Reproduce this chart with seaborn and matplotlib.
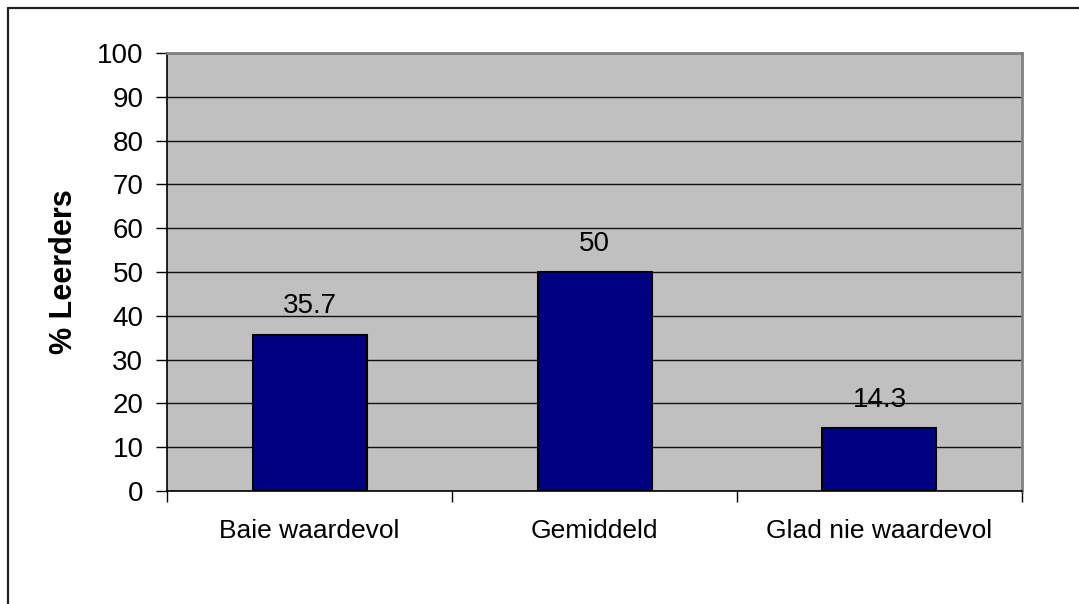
import matplotlib
matplotlib.use("Agg")
import matplotlib.pyplot as plt
import seaborn as sns
import pandas as pd
from matplotlib.lines import Line2D

categories = ["Baie waardevol", "Gemiddeld", "Glad nie waardevol"]
values = [35.7, 50, 14.3]
value_labels = ["35.7", "50", "14.3"]
y_ticks = [0, 10, 20, 30, 40, 50, 60, 70, 80, 90, 100]
y_label = "% Leerders"

sns.set_theme(style="white")
plt.rcParams["font.family"] = ["Liberation Sans", "DejaVu Sans"]
plt.rcParams["text.color"] = "black"
plt.rcParams["axes.labelcolor"] = "black"
plt.rcParams["xtick.color"] = "black"
plt.rcParams["ytick.color"] = "black"

W, H = 1079, 604
fig = plt.figure(figsize=(W / 100, H / 100), dpi=100)
fig.patch.set_facecolor("white")

# outer chart frame (top and left visible)
fig.add_artist(Line2D([8 / W, 1.0], [1 - 8 / H, 1 - 8 / H], color="#222222", lw=1.6, transform=fig.transFigure))
fig.add_artist(Line2D([8 / W, 8 / W], [1 - 8 / H, 0.0], color="#222222", lw=1.6, transform=fig.transFigure))

left, right, top, bottom = 167, 1022, 53, 491
ax = fig.add_axes([left / W, 1 - bottom / H, (right - left) / W, (bottom - top) / H])
ax.set_facecolor("#C0C0C0")

df = pd.DataFrame({"cat": categories, "val": values})
sns.barplot(data=df, x="cat", y="val", color="#000080", saturation=1, width=0.4,
            edgecolor="black", linewidth=1.5, ax=ax, zorder=3)

ax.set_ylim(0, 100)
ax.set_xlim(-0.5, 2.5)
ax.set_yticks(y_ticks)
ax.set_yticklabels([str(t) for t in y_ticks], fontsize=20)
ax.yaxis.grid(True, color="#111111", linewidth=1.0, zorder=1)
ax.set_axisbelow(True)

ax.set_xticks(range(len(categories)))
ax.set_xticklabels(categories, fontsize=19)
ax.set_xticks([-0.5, 0.5, 1.5, 2.5], minor=True)
ax.tick_params(axis="x", which="major", length=0, pad=20)
ax.tick_params(axis="x", which="minor", length=8, width=1, color="black", direction="out", bottom=True)
ax.tick_params(axis="y", which="major", length=8, width=1, color="black", direction="out", left=True, pad=9)

ax.set_xlabel("")
ax.set_ylabel(y_label, fontsize=22, fontweight="bold", labelpad=13)

for side in ["left", "bottom"]:
    ax.spines[side].set_color("black")
    ax.spines[side].set_linewidth(1.2)
for side in ["top", "right"]:
    ax.spines[side].set_color("#808080")
    ax.spines[side].set_linewidth(2)

ax.bar_label(ax.containers[0], labels=value_labels, padding=11, fontsize=20)

fig.savefig("out.png", dpi=100)
